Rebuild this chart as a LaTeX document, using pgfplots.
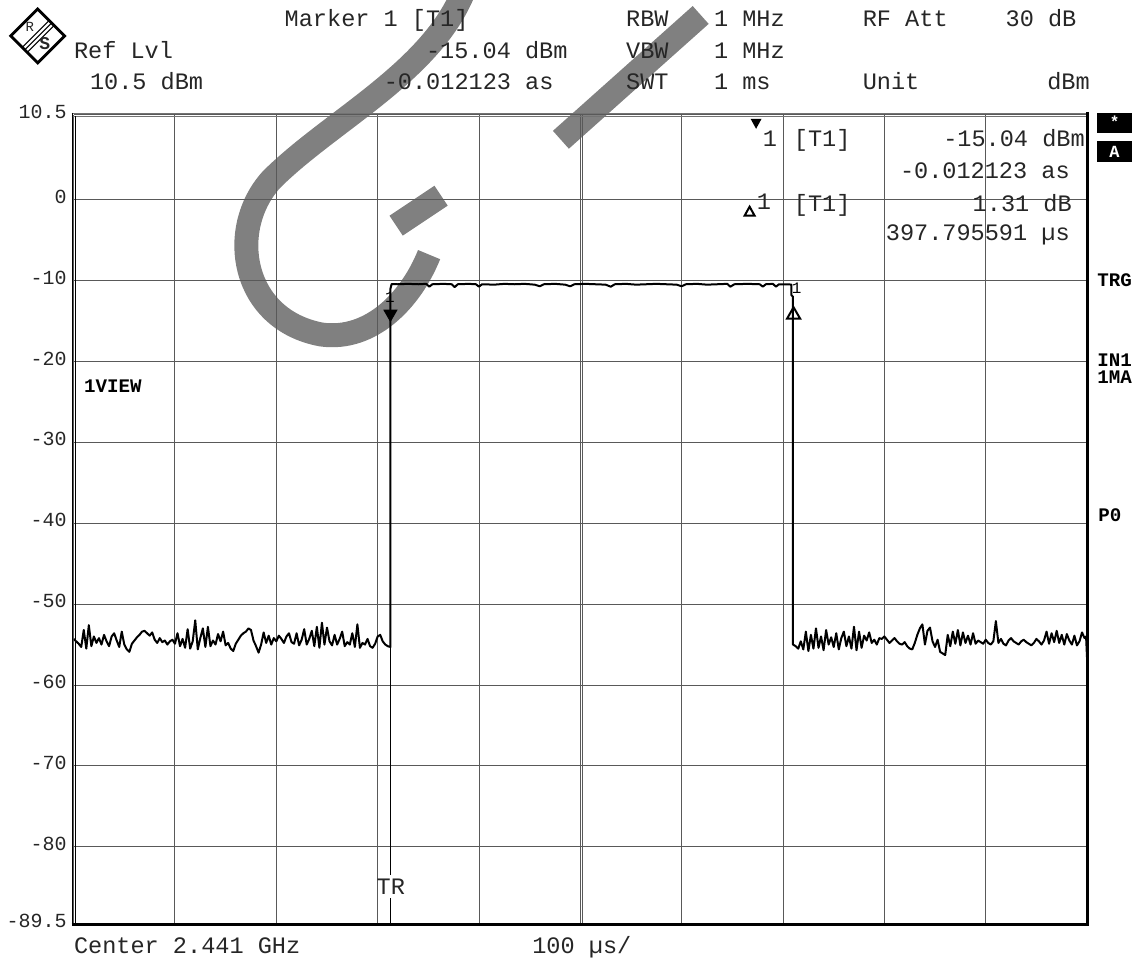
\documentclass[border=0pt]{standalone}
\usepackage{fontspec}
\setmainfont{Liberation Mono}
\setmonofont{Liberation Mono}
\usepackage{pgfplots}
\pgfplotsset{compat=1.18}

\newcommand\hdr{\fontsize{11.8}{12}\selectfont}
\newcommand\tk{\fontsize{10}{10}\selectfont}
\newcommand\bd{\bfseries\fontsize{9.6}{10}\selectfont}

% zero-span trace, time in us, level in dBm
\pgfplotstableread{
t db
0 -54.3
2.5 -54.6
5 -54.9
7.5 -55.3
10 -53.2
12.5 -55.5
15 -52.6
17.5 -55.2
20 -54.0
22.5 -54.8
25 -54.2
27.5 -55.0
30 -53.8
32.5 -54.6
35 -55.2
37.5 -54.0
40 -53.6
42.5 -54.5
45 -55.3
47.5 -53.4
50 -55.0
52.5 -55.6
55 -55.9
57.5 -54.9
60 -54.5
62.5 -54.1
65 -53.8
67.5 -53.4
70 -53.3
72.5 -53.6
75 -53.9
77.5 -53.5
80 -54.4
82.5 -54.8
85 -54.2
87.5 -54.7
90 -54.5
92.5 -55.0
95 -54.6
97.5 -54.4
100 -54.9
102.5 -53.6
105 -55.2
107.5 -54.3
110 -55.4
112.5 -53.1
115 -55.5
117.5 -54.6
120 -52.0
122.5 -55.6
125 -54.2
127.5 -53.0
130 -55.3
132.5 -52.8
135 -55.2
137.5 -54.5
140 -55.0
142.5 -53.7
145 -54.6
147.5 -53.4
150 -55.1
152.5 -54.8
155 -55.5
157.5 -55.8
160 -54.9
162.5 -54.4
165 -53.9
167.5 -53.6
170 -53.4
172.5 -53.0
175 -53.2
177.5 -54.5
180 -55.2
182.5 -56.0
185 -55.0
187.5 -53.5
190 -54.8
192.5 -53.9
195 -55.0
197.5 -54.2
200 -54.6
202.5 -53.9
205 -54.3
207.5 -54.8
210 -54.0
212.5 -53.6
215 -54.7
217.5 -54.9
220 -53.6
222.5 -55.1
225 -54.4
227.5 -53.1
230 -55.0
232.5 -54.3
235 -53.3
237.5 -55.2
240 -52.8
242.5 -55.4
245 -52.3
247.5 -55.0
250 -52.9
252.5 -54.6
255 -55.1
257.5 -53.8
260 -55.0
262.5 -54.3
265 -53.4
267.5 -55.2
270 -54.7
272.5 -55.0
275 -53.6
277.5 -55.3
280 -52.5
282.5 -55.4
285 -54.8
287.5 -55.0
290 -54.3
292.5 -55.2
295 -55.4
297.5 -54.9
300 -54.0
302.5 -53.8
305 -54.6
307.5 -55.0
310 -55.2
312.6 -55.3
312.6 -11.0
313.8 -10.42
320 -10.45
330 -10.4
340 -10.45
348 -10.4
351 -10.75
354 -10.45
365 -10.4
373 -10.45
376 -10.8
379 -10.45
390 -10.4
397 -10.45
400 -10.75
403 -10.45
415 -10.5
425 -10.4
435 -10.45
445 -10.4
455 -10.5
460 -10.7
464 -10.45
475 -10.4
485 -10.5
490 -10.7
494 -10.45
505 -10.4
515 -10.45
525 -10.5
530 -10.75
534 -10.45
545 -10.4
555 -10.5
565 -10.45
575 -10.4
585 -10.45
595 -10.5
600 -10.7
604 -10.45
615 -10.4
625 -10.5
635 -10.45
645 -10.4
648 -10.75
652 -10.45
665 -10.4
677 -10.45
680 -10.75
683 -10.45
690 -10.4
693 -10.75
696 -10.45
705 -10.45
708.3 -10.5
708.3 -11.8
709.8 -12.0
709.8 -55.0
712.5 -55.2
715 -55.5
717.5 -54.6
720 -55.6
722.5 -53.4
725 -55.8
727.5 -53.8
730 -55.5
732.5 -53.0
735 -55.4
737.5 -54.0
740 -55.7
742.5 -53.2
745 -55.0
747.5 -54.1
750 -55.3
752.5 -53.6
755 -55.6
757.5 -54.2
760 -53.4
762.5 -55.2
765 -54.0
767.5 -55.5
770 -52.8
772.5 -55.7
775 -53.4
777.5 -55.4
780 -53.9
782.5 -54.5
785 -53.5
787.5 -54.8
790 -54.4
792.5 -55.0
795 -54.2
797.5 -54.3
800 -54.0
802.5 -54.4
805 -54.8
807.5 -54.5
810 -54.2
812.5 -54.6
815 -54.9
817.5 -55.0
820 -54.7
822.5 -55.2
825 -55.5
827.5 -55.6
830 -54.8
832.5 -53.8
835 -53.0
837.5 -52.5
840 -55.0
842.5 -53.3
845 -52.9
847.5 -54.6
850 -55.3
852.5 -54.4
855 -55.9
857.5 -56.1
860 -56.3
862.5 -53.8
865 -55.2
867.5 -53.4
870 -54.9
872.5 -53.2
875 -55.1
877.5 -53.5
880 -54.8
882.5 -53.9
885 -55.0
887.5 -53.6
890 -54.9
892.5 -54.5
895 -54.7
897.5 -54.9
900 -54.4
902.5 -54.8
905 -55.0
907.5 -54.6
910 -52.1
912.5 -54.8
915 -54.3
917.5 -54.9
920 -55.1
922.5 -54.5
925 -54.2
927.5 -54.6
930 -54.8
932.5 -55.0
935 -54.6
937.5 -54.4
940 -54.7
942.5 -54.9
945 -55.1
947.5 -54.8
950 -54.3
952.5 -54.6
955 -55.0
957.5 -54.5
960 -53.4
962.5 -54.9
965 -53.6
967.5 -54.7
970 -53.3
972.5 -54.8
975 -53.8
977.5 -55.0
980 -53.7
982.5 -54.5
985 -55.0
987.5 -53.9
990 -55.1
992.5 -54.6
995 -53.5
997.5 -54.2
999 -54.0
1000 -56.8
}\trace

\begin{document}
\begin{tikzpicture}
% page frame in pixel units (origin top-left)
\begin{scope}[x=0.5pt,y=-0.5pt,yshift=480pt]
\path[use as bounding box] (0,0) rectangle (1141,960);
% COPY watermark
\draw[black!50, line width=12pt]
  (465,-15) .. controls (435,70) and (330,120) .. (270,180)
  .. controls (225,230) and (240,320) .. (320,335)
  .. controls (370,342) and (410,300) .. (428,255);
\draw[black!50, line width=12pt] (395,226) -- (440,196);
\draw[black!50, line width=12pt] (560,140) -- (700,15);
\end{scope}

\begin{axis}[
  at={(36pt,17.5pt)}, anchor=south west,
  width=507.5pt, height=405pt, scale only axis,
  xmin=0, xmax=1000, ymin=-89.5, ymax=10.5,
  axis line style={draw=none},
  xtick={0,100,...,1000}, xticklabels={},
  ytick={-89.5,-80,-70,-60,-50,-40,-30,-20,-10,0,10.5},
  yticklabels={-89.5,-80,-70,-60,-50,-40,-30,-20,-10,0,10.5},
  yticklabel style={font=\tk, text=black!85, anchor=east, yshift=1.5pt},
  major tick length=0pt,
  grid=major,
  major grid style={black!65, line width=0.5pt},
]
\draw[black!65, line width=0.5pt] (axis cs:502.5,-89.5) -- (axis cs:502.5,10.5);
\draw[black, line width=0.6pt] (axis cs:312.6,-89.5) -- (axis cs:312.6,-86.3);
\draw[black, line width=0.6pt] (axis cs:312.6,-83.5) -- (axis cs:312.6,-55);
\node[font=\hdr, text=black!85, inner sep=0pt] at (axis cs:313,-84.9) {TR};
\addplot[black, line width=1pt, line join=round] table[x=t, y=db] {\trace};
\addplot[only marks, mark=triangle*, mark size=3.75pt,
  mark options={rotate=180, yshift=-3.75pt, fill=black, draw=black}]
  coordinates {(312.6,-15.04)};
\addplot[only marks, mark=triangle, mark size=3.75pt,
  mark options={line width=1pt, yshift=-2pt, draw=black}]
  coordinates {(710.4,-13.73)};
\node[font=\fontsize{8}{8}\selectfont, inner sep=0pt] at (axis cs:312.2,-12.1) {1};
\node[font=\fontsize{8}{8}\selectfont, inner sep=0pt] at (axis cs:713.5,-10.9) {1};
\end{axis}

\begin{scope}[x=0.5pt,y=-0.5pt,yshift=480pt,
  every node/.style={inner sep=0pt, text=black!85}]
% frame
\draw[black!55, line width=0.5pt] (70,113.5) -- (1087,113.5);
\draw[black!55, line width=0.5pt] (70,116.5) -- (1087,116.5);
\draw[black, line width=0.6pt] (70.5,113) -- (70.5,926);
\draw[black, line width=0.5pt] (73.5,116) -- (73.5,926);
\draw[black, line width=1.5pt] (70,925.5) -- (1088.5,925.5);
\draw[black, line width=1.5pt] (1087,112) -- (1087,927);
% logo
\draw[black, line width=1.4pt] (36,9) -- (63,36) -- (36,63) -- (9,36) -- cycle;
\draw[black, line width=0.6pt] (20,48) -- (48,20);
\draw[black, line width=0.6pt] (22.5,50.5) -- (50.5,22.5);
\draw[black, line width=0.6pt] (25,53) -- (53,25);
\node[font=\fontsize{7}{7}\selectfont] at (28,27) {R};
\node[font=\bfseries\fontsize{9}{9}\selectfont] at (43,44) {S};
% header
\node[anchor=base west, font=\hdr] at (283,27) {Marker 1 [T1]};
\node[anchor=base west, font=\hdr] at (625,27) {RBW};
\node[anchor=base west, font=\hdr] at (713,27) {1 MHz};
\node[anchor=base west, font=\hdr] at (862,27) {RF Att};
\node[anchor=base west, font=\hdr] at (1005,27) {30 dB};
\node[anchor=base west, font=\hdr] at (72,59) {Ref Lvl};
\node[anchor=base east, font=\hdr] at (567,59) {-15.04 dBm};
\node[anchor=base west, font=\hdr] at (625,59) {VBW};
\node[anchor=base west, font=\hdr] at (713,59) {1 MHz};
\node[anchor=base west, font=\hdr] at (88,90) {10.5 dBm};
\node[anchor=base east, font=\hdr] at (553,90) {-0.012123 as};
\node[anchor=base west, font=\hdr] at (625,90) {SWT};
\node[anchor=base west, font=\hdr] at (713,90) {1 ms};
\node[anchor=base west, font=\hdr] at (862,90) {Unit};
\node[anchor=base east, font=\hdr] at (1090,90) {dBm};
% marker table inside the grid
\fill[black] (750,119) -- (761,119) -- (755.5,129) -- cycle;
\node[anchor=base west, font=\hdr] at (762,147) {1};
\node[anchor=base west, font=\hdr] at (793,147) {[T1]};
\node[anchor=base east, font=\hdr] at (1085,147) {-15.04 dBm};
\node[anchor=base east, font=\hdr] at (1070,179) {-0.012123 as};
\draw[black, line width=1pt] (744,216) -- (754,216) -- (749,207) -- cycle;
\node[anchor=base west, font=\hdr] at (756,210) {1};
\node[anchor=base west, font=\hdr] at (793,212) {[T1]};
\node[anchor=base east, font=\hdr] at (1072,212) {1.31 dB};
\node[anchor=base east, font=\hdr] at (1070,241) {397.795591 µs};
% side labels
\node[anchor=base west, font=\bd, text=black] at (82,393) {1VIEW};
\node[anchor=base west, font=\bd, text=black] at (1097,287) {TRG};
\node[anchor=base west, font=\bd, text=black] at (1097,367) {IN1};
\node[anchor=base west, font=\bd, text=black] at (1097,384) {1MA};
\node[anchor=base west, font=\bd, text=black] at (1098,522) {P0};
\fill[black] (1097,113) rectangle (1132,133);
\node[font=\bfseries\fontsize{8}{8}\selectfont, text=white] at (1114.5,122) {*};
\fill[black] (1097,141) rectangle (1132,162);
\node[font=\bfseries\fontsize{8.5}{8.5}\selectfont, text=white] at (1114.5,152) {A};
% footer
\node[anchor=base west, font=\hdr] at (72,955) {Center 2.441 GHz};
\node[anchor=base west, font=\hdr] at (531,955) {100 µs/};
\end{scope}
\end{tikzpicture}
\end{document}
